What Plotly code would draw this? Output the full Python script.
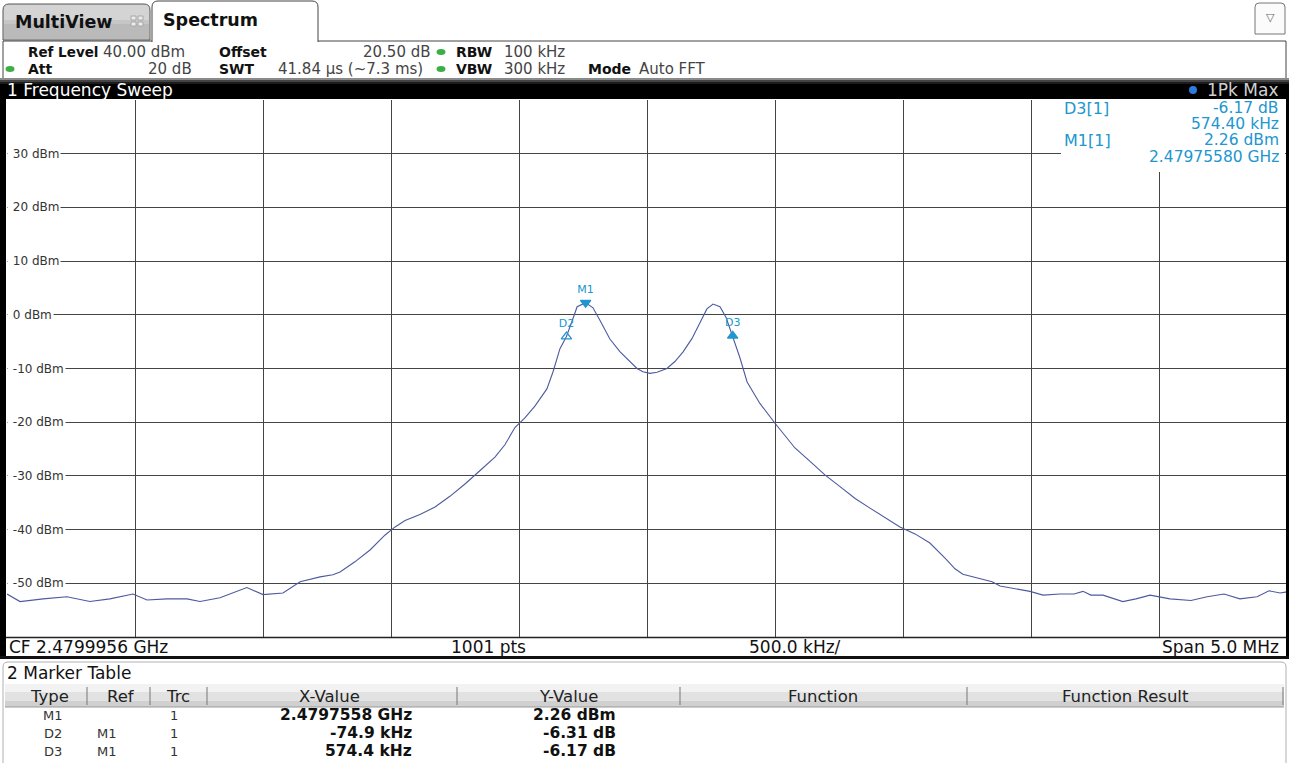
import plotly.graph_objects as go

W, H = 1289, 763

# ---- measurement settings ----
CF_GHZ = 2.4799956
SPAN_MHZ = 5.0
REF_LEVEL_DBM = 40.0
BOTTOM_DBM = -60.0
DIV_MHZ = 0.5
DIV_DB = 10.0

# ---- trace 1 (Pk Max): offset from CF in kHz and level in dBm ----
trace_offset_khz = [
    -2500, -2449, -2359, -2266, -2176, -2098, -2008, -1953, -1875, -1797,
    -1746, -1668, -1563, -1500, -1422, -1355, -1277, -1227, -1199, -1141,
    -1082, -1023, -984, -945, -887, -828, -770, -711, -652, -594,
    -555, -516, -477, -438, -391, -367, -340, -314.7, -289, -273,
    -239.8, -211, -184, -145, -105, -78, -39, -16, 12, 39,
    78, 109, 141, 176, 207, 234, 258, 285, 309, 334.6,
    363, 391, 441, 500, 578, 637, 695, 754, 813, 871,
    930, 988, 1047, 1105, 1168, 1203, 1234, 1281, 1348, 1379,
    1438, 1496, 1547, 1613, 1668, 1703, 1734, 1781, 1859, 1910,
    1965, 2043, 2125, 2188, 2254, 2316, 2383, 2430, 2473, 2500,
]
trace_level_dbm = [
    -52.0, -53.4, -52.9, -52.5, -53.4, -52.9, -52.0, -53.1, -52.9, -52.9,
    -53.4, -52.7, -50.8, -52.1, -51.8, -49.7, -48.8, -48.4, -47.9, -46.0,
    -43.8, -41.0, -39.5, -38.3, -37.2, -35.8, -33.8, -31.5, -29.0, -26.5,
    -24.2, -21.0, -19.2, -17.0, -13.8, -10.6, -6.3, -4.05, -0.7, 1.5,
    2.26, 1.3, -1.0, -4.5, -6.9, -8.2, -10.0, -10.6, -10.9, -10.7,
    -10.0, -8.7, -6.9, -4.4, -1.3, 1.1, 2.0, 1.5, -0.5, -3.91,
    -8.0, -12.5, -16.5, -20.2, -24.8, -27.3, -29.8, -32.0, -34.2, -36.0,
    -37.8, -39.5, -40.8, -42.5, -45.5, -47.3, -48.3, -48.9, -49.7, -50.5,
    -51.0, -51.5, -52.2, -52.0, -52.0, -51.5, -52.2, -52.2, -53.4, -52.9,
    -52.2, -52.9, -53.2, -52.5, -52.0, -52.9, -52.5, -51.4, -51.8, -51.6,
]

# ---- marker table ----
m1_freq_ghz = 2.4797558
m1_level_dbm = 2.26
delta_names = ["D2", "D3"]
delta_offset_khz = [-74.9, 574.4]
delta_level_db = [-6.31, -6.17]

y_grid_labels = [30, 20, 10, 0, -10, -20, -30, -40, -50]

BLUE = "#2196cf"
TRACE = "#4d5a9e"
GRID = "#444444"
FONT = "DejaVu Sans"

# marker positions (MHz offset from CF, dBm)
m1_x = (m1_freq_ghz - CF_GHZ) * 1e3
m_x = [m1_x] + [m1_x + d / 1000.0 for d in delta_offset_khz]
m_y = [m1_level_dbm] + [m1_level_dbm + d for d in delta_level_db]
m_names = ["M1"] + delta_names


def X(px):
    return px / W


def Y(py):
    return 1 - py / H


shapes = []
annotations = []


def rect(x0, y0, x1, y1, fill=None, line=None, lw=1, layer="above"):
    shapes.append(dict(type="rect", xref="paper", yref="paper",
                       x0=X(x0), x1=X(x1), y0=Y(y1), y1=Y(y0),
                       fillcolor=fill or "rgba(0,0,0,0)",
                       line=dict(color=line or "rgba(0,0,0,0)", width=lw if line else 0),
                       layer=layer))


def hline(x0, x1, y, color, lw=1):
    shapes.append(dict(type="line", xref="paper", yref="paper",
                       x0=X(x0), x1=X(x1), y0=Y(y), y1=Y(y),
                       line=dict(color=color, width=lw), layer="above"))


def vline(x, y0, y1, color, lw=1):
    shapes.append(dict(type="line", xref="paper", yref="paper",
                       x0=X(x), x1=X(x), y0=Y(y0), y1=Y(y1),
                       line=dict(color=color, width=lw), layer="above"))


def tab_path(x0, y0, x1, y1, r=6):
    return (f"M {X(x0)},{Y(y1)} L {X(x0)},{Y(y0 + r)} "
            f"Q {X(x0)},{Y(y0)} {X(x0 + r)},{Y(y0)} "
            f"L {X(x1 - r)},{Y(y0)} Q {X(x1)},{Y(y0)} {X(x1)},{Y(y0 + r)} "
            f"L {X(x1)},{Y(y1)}")


def dot(cx, cy, rx, ry, color):
    shapes.append(dict(type="circle", xref="paper", yref="paper",
                       x0=X(cx - rx), x1=X(cx + rx), y0=Y(cy + ry), y1=Y(cy - ry),
                       fillcolor=color, line=dict(width=0), layer="above"))


def text(x, y, s, size=14, color="#222", bold=False, anchor="left", bg=None, pad=0):
    annotations.append(dict(
        xref="paper", yref="paper", x=X(x), y=Y(y), text=f"<b>{s}</b>" if bold else s,
        showarrow=False, xanchor=anchor, yanchor="middle",
        font=dict(family=FONT, size=size, color=color),
        bgcolor=bg, borderpad=pad))


# ---- tabs ----
shapes.append(dict(type="path", xref="paper", yref="paper", path=tab_path(3, 4, 150, 40) + " Z",
                   fillcolor="#d4d4d4", line=dict(color="#555", width=1), layer="above"))
rect(4, 24, 149, 39, fill="#bababa")
rect(4, 20, 149, 24, fill="#c6c6c6")
text(14, 22, "MultiView", 17.5, "#111", bold=True)
for ix in (0, 1):
    for iy in (0, 1):
        rect(131 + ix * 7, 16 + iy * 6, 136 + ix * 7, 20 + iy * 6, fill="#ececec", line="#a8a8a8")
shapes.append(dict(type="path", xref="paper", yref="paper", path=tab_path(152, 1, 318, 42),
                   fillcolor="#ffffff", line=dict(color="#444", width=1), layer="above"))
text(162, 20, "Spectrum", 17.5, "#111", bold=True)
shapes.append(dict(type="path", xref="paper", yref="paper",
                   path=tab_path(1255, 3, 1285, 34, 4) + " Z",
                   fillcolor="#fbfbfb", line=dict(color="#777", width=1), layer="above"))
text(1270, 18, "▽", 11, "#666", anchor="center")

# ---- header block ----
hline(3, 152, 41, "#444")
hline(318, 1286, 41, "#444")
vline(3, 41, 78, "#444")
vline(1286, 41, 78, "#444")
text(27, 52, "Ref Level", 13.5, "#111", bold=True)
text(102, 52, "40.00 dBm", 15, "#444")
text(218, 52, "Offset", 14, "#111", bold=True)
text(432, 52, "20.50 dB", 15, "#444", anchor="right")
dot(441, 52, 4.5, 3, "#3cae46")
text(455, 52, "RBW", 14, "#111", bold=True)
text(503, 52, "100 kHz", 15, "#444")
dot(10, 69, 4.5, 3, "#3cae46")
text(27, 69, "Att", 14, "#111", bold=True)
text(193, 69, "20 dB", 15, "#444", anchor="right")
text(218, 69, "SWT", 14, "#111", bold=True)
text(277, 69, "41.84 µs (~7.3 ms)", 15, "#444")
dot(441, 69, 4.5, 3, "#3cae46")
text(455, 69, "VBW", 14, "#111", bold=True)
text(503, 69, "300 kHz", 15, "#444")
text(587, 69, "Mode", 14, "#111", bold=True)
text(638, 69, "Auto FFT", 15, "#444")

# ---- window title bar ----
rect(0, 78, 1289, 99, fill="#000000")
rect(0, 78, 1289, 80, fill="#8a8a8a")
rect(0, 80, 1289, 82, fill="#444444")
rect(0, 82, 1289, 84, fill="#1c1c1c")
text(6, 90, "1 Frequency Sweep", 17, "#ffffff")
dot(1193, 90, 4, 4, "#2f7ae0")
text(1279, 90, "1Pk Max", 17, "#d0d0d0", anchor="right")

# ---- window frame ----
rect(0, 99, 6, 659, fill="#000000")
rect(1286, 99, 1289, 659, fill="#000000")
hline(6, 1286, 637.5, "#222", 1.5)
hline(0, 1289, 657.5, "#111", 3)
text(8, 647, "CF 2.4799956 GHz", 17, "#111")
text(450, 647, "1001 pts", 17, "#111")
text(748, 647, "500.0 kHz/", 17, "#111")
text(1280, 647, "Span 5.0 MHz", 17, "#111", anchor="right")

# ---- marker readout ----
rect(1061, 100, 1285, 172, fill="#ffffff", layer="above")
text(1063, 108, "D3[1]", 16, BLUE)
text(1280, 108, f"{delta_level_db[1]:.2f} dB", 15.5, BLUE, anchor="right")
text(1280, 124, f"{delta_offset_khz[1]:.2f} kHz", 15.5, BLUE, anchor="right")
text(1063, 140, "M1[1]", 16, BLUE)
text(1280, 140, f"{m1_level_dbm:.2f} dBm", 15.5, BLUE, anchor="right")
text(1280, 157, f"{m1_freq_ghz:.8f} GHz", 15.5, BLUE, anchor="right")

# ---- y grid labels ----
for v in y_grid_labels:
    ypx = 100 + (REF_LEVEL_DBM - v) / (REF_LEVEL_DBM - BOTTOM_DBM) * 537
    text(7, ypx, f"&nbsp;{v} dBm", 12, "#333", bg="#ffffff", pad=1)

# ---- marker table ----
shapes.append(dict(type="path", xref="paper", yref="paper",
                   path=tab_path(3, 662, 1286, 763, 5),
                   fillcolor="#ffffff", line=dict(color="#b0b0b0", width=1), layer="above"))
text(6, 673, "2 Marker Table", 17, "#111")
rect(5, 684, 1284, 707, fill="#e2e2e2")
rect(5, 684, 1284, 692, fill="#f2f2f2")
rect(5, 701, 1284, 707, fill="#d0d0d0")
hline(5, 1284, 707, "#999")
for sx in (87, 150, 207, 457, 680, 967, 1283):
    vline(sx, 687, 705, "#777")
for cx, s in ((50, "Type"), (121, "Ref"), (178, "Trc"), (330, "X-Value"),
              (568, "Y-Value"), (823, "Function"), (1125, "Function Result")):
    text(cx, 696, s, 16.5, "#222", anchor="center")
rows_y = [715, 733, 751]
rows_ref = ["", "M1", "M1"]
rows_x = [f"{m1_freq_ghz:.7f} GHz"] + [f"{d:.1f} kHz" for d in delta_offset_khz]
rows_yv = [f"{m1_level_dbm:.2f} dBm"] + [f"{d:.2f} dB" for d in delta_level_db]
for ry, name, ref, xv, yv in zip(rows_y, m_names, rows_ref, rows_x, rows_yv):
    text(53, ry, name, 13, "#333", anchor="center")
    if ref:
        text(107, ry, ref, 13, "#333", anchor="center")
    text(174, ry, "1", 13, "#333", anchor="center")
    text(413, ry, xv, 15.5, "#111", bold=True, anchor="right")
    text(617, ry, yv, 15.5, "#111", bold=True, anchor="right")

fig = go.Figure()
fig.add_trace(go.Scatter(
    x=[k / 1000.0 for k in trace_offset_khz], y=trace_level_dbm,
    mode="lines", line=dict(color=TRACE, width=1.1), hoverinfo="skip", showlegend=False))
fig.add_trace(go.Scatter(
    x=m_x, y=m_y, mode="markers+text", text=m_names, textposition="top center",
    textfont=dict(family=FONT, size=11, color=BLUE),
    marker=dict(symbol=["triangle-down", "triangle-up-open", "triangle-up"],
                size=9, color=BLUE, line=dict(color=BLUE, width=1.3)),
    hoverinfo="skip", showlegend=False))

fig.update_layout(
    width=W, height=H, margin=dict(l=0, r=0, t=0, b=0),
    paper_bgcolor="#ffffff", plot_bgcolor="#ffffff",
    shapes=shapes, annotations=annotations,
    xaxis=dict(domain=[X(7), X(1287)], range=[-SPAN_MHZ / 2, SPAN_MHZ / 2], dtick=DIV_MHZ,
               showticklabels=False, ticks="", showgrid=True, gridcolor=GRID, gridwidth=1,
               zeroline=False, showline=False, fixedrange=True),
    yaxis=dict(domain=[Y(637), Y(100)], range=[BOTTOM_DBM, REF_LEVEL_DBM], dtick=DIV_DB,
               showticklabels=False, ticks="", showgrid=True, gridcolor=GRID, gridwidth=1,
               zeroline=False, showline=False, fixedrange=True),
)

fig.write_html("out.html")
